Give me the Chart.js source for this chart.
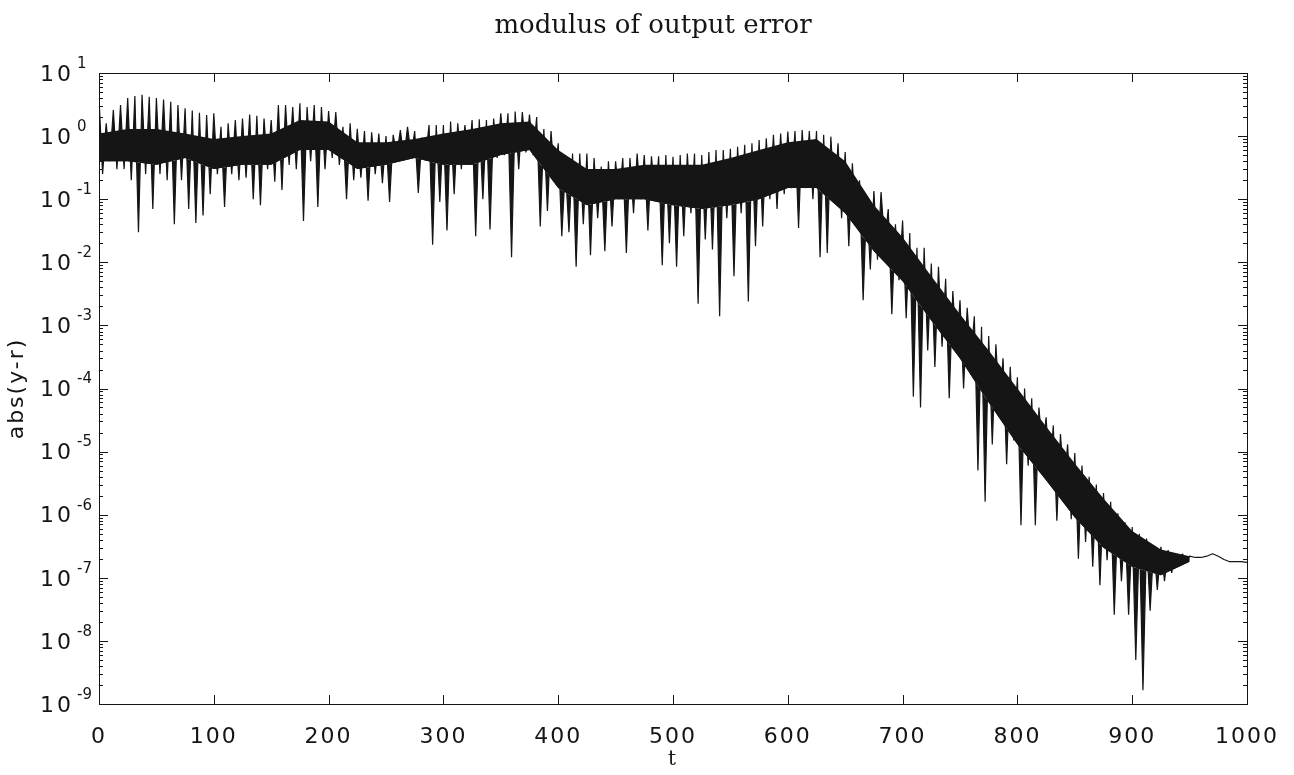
<!DOCTYPE html>
<html>
<head>
<meta charset="utf-8">
<title>modulus of output error</title>
<script src="https://cdn.jsdelivr.net/npm/chart.js@4.4.0/dist/chart.umd.min.js"></script>
<style>
  html, body { margin: 0; padding: 0; background: #fff; }
  #wrap { width: 1294px; height: 775px; }
</style>
</head>
<body>
<div id="wrap"><canvas id="errChart" width="1294" height="775"></canvas></div>
<script>
const chartTitle = 'modulus of output error';
const xTitle = 't';
const yTitle = 'abs(y-r)';

// axis ticks
const xTicks = [0, 100, 200, 300, 400, 500, 600, 700, 800, 900, 1000];
const xTickLabels = ['0', '100', '200', '300', '400', '500', '600', '700', '800', '900', '1000'];
const yTickExp = [1, 0, -1, -2, -3, -4, -5, -6, -7, -8, -9];

// oscillation: one crest and one trough per cycle, 8 cycles per row (50 units of t)
const cycle = 6.25;
const peaks = [
  4.0, 1.6, 2.6, 3.1, 4.0, 4.3, 4.5, 4.2,              // 0-50
  4.0, 3.8, 3.5, 3.1, 2.75, 2.55, 2.35, 2.15,          // 50-100
  2.3, 1.4, 1.6, 1.8, 1.9, 2.2, 2.1, 1.9,              // 100-150
  1.8, 3.1, 3.1, 2.9, 3.3, 2.9, 3.1, 2.9,              // 150-200
  2.5, 2.4, 1.4, 1.6, 1.3, 1.2, 1.15, 1.1,             // 200-250
  1.0, 1.05, 1.25, 1.4, 1.2, 0.95, 1.5, 1.5,           // 250-300
  1.5, 1.7, 1.6, 1.5, 1.8, 1.85, 1.8, 1.9,             // 300-350
  2.3, 2.3, 2.45, 2.4, 2.2, 2.0, 1.3, 1.2,             // 350-400
  0.77, 0.32, 0.53, 0.53, 0.53, 0.45, 0.33, 0.4,       // 400-450
  0.4, 0.45, 0.45, 0.53, 0.5, 0.48, 0.48, 0.5,         // 450-500
  0.47, 0.5, 0.53, 0.53, 0.5, 0.56, 0.6, 0.6,          // 500-550
  0.63, 0.68, 0.73, 0.77, 0.87, 0.92, 1.05, 1.1,       // 550-600
  1.18, 1.2, 1.25, 1.2, 1.2, 1.05, 0.98, 0.77,         // 600-650
  0.56, 0.37, 0.2, 0.1, 0.135, 0.13, 0.07, 0.04,       // 650-700
  0.046, 0.029, 0.017, 0.017, 0.0096, 0.0085, 0.0055, 0.0035, // 700-750
  2.5e-3, 1.9e-3, 1.4e-3, 9.5e-4, 6.8e-4, 5.0e-4, 3.0e-4, 2.2e-4, // 750-800
  1.5e-4, 1.0e-4, 7.0e-5, 5.0e-5, 3.5e-5, 2.6e-5, 1.9e-5, 1.3e-5, // 800-850
  9.5e-6, 6.0e-6, 4.0e-6, 3.0e-6, 2.2e-6, 1.6e-6, 1.05e-6, 7.6e-7, // 850-900
  6.4e-7, 5.0e-7, 4.2e-7, 3.3e-7, 3.1e-7, 2.75e-7, 2.4e-7, 2.4e-7  // 900-950
];
const troughs = [
  0.25, 0.4, 0.3, 0.3, 0.2, 0.03, 0.25, 0.07,
  0.25, 0.2, 0.04, 0.2, 0.07, 0.042, 0.055, 0.12,
  0.25, 0.075, 0.25, 0.2, 0.22, 0.1, 0.08, 0.3,
  0.19, 0.14, 0.35, 0.3, 0.045, 0.4, 0.075, 0.3,
  0.45, 0.35, 0.1, 0.2, 0.22, 0.095, 0.25, 0.18,
  0.09, 0.5, 0.45, 0.5, 0.125, 0.45, 0.019, 0.09,
  0.032, 0.12, 0.3, 0.35, 0.026, 0.1, 0.033, 0.45,
  0.5, 0.012, 0.3, 0.55, 0.5, 0.037, 0.065, 0.2,
  0.026, 0.03, 0.0085, 0.04, 0.013, 0.05, 0.015, 0.037,
  0.1, 0.014, 0.06, 0.1, 0.032, 0.1, 0.009, 0.02,
  0.0085, 0.026, 0.06, 0.0022, 0.023, 0.016, 0.0014, 0.05,
  0.006, 0.06, 0.0024, 0.018, 0.037, 0.1, 0.07, 0.12,
  0.15, 0.035, 0.15, 0.1, 0.012, 0.014, 0.09, 0.05,
  0.018, 0.04, 0.0025, 0.0077, 0.011, 0.02, 0.0015, 0.0052,
  1.3e-3, 7.4e-5, 5.0e-5, 4.0e-4, 2.2e-4, 4.6e-4, 7.0e-5, 3.7e-4,
  1.0e-4, 3.0e-4, 5.0e-6, 1.6e-6, 1.3e-5, 5.0e-5, 6.3e-6, 1.5e-5,
  6.8e-7, 6.0e-6, 6.8e-7, 1.0e-5, 4.0e-6, 8.0e-7, 3.0e-6, 8.5e-7,
  2.0e-7, 3.7e-7, 1.5e-7, 7.6e-8, 1.9e-7, 2.6e-8, 8.8e-8, 2.6e-8,
  5.0e-9, 1.65e-9, 3.0e-8, 6.4e-8, 8.8e-8, 1.2e-7, 1.5e-7, 1.8e-7
];

// settled tail after the oscillation dies out
const tailT = [950, 955, 960, 965, 970, 975, 980, 985, 990, 995, 1000];
const tailV = [2.2e-7, 2.1e-7, 2.1e-7, 2.2e-7, 2.4e-7, 2.2e-7, 1.95e-7, 1.8e-7, 1.8e-7, 1.8e-7, 1.75e-7];

// dense band of fast oscillation (upper and lower edge)
const bandT = [0, 25, 50, 75, 100, 125, 150, 175, 200, 225, 250, 275, 300, 325, 350, 375, 400, 425, 450, 475,
  500, 525, 550, 575, 600, 625, 650, 675, 700, 725, 750, 775, 800, 825, 850, 875, 900, 925, 950];
const bandHigh = [1.1, 1.3, 1.3, 1.1, 0.9, 1.0, 1.1, 1.8, 1.7, 0.8, 0.8, 0.9, 1.1, 1.3, 1.6, 1.7, 0.6, 0.3, 0.3, 0.35,
  0.35, 0.35, 0.45, 0.6, 0.8, 0.9, 0.4, 0.08, 0.025, 0.006, 1.5e-3, 4e-4, 1.0e-4, 2.5e-5, 6.5e-6, 1.8e-6, 5.5e-7, 2.8e-7, 2.2e-7];
const bandLow = [0.4, 0.4, 0.35, 0.45, 0.3, 0.35, 0.35, 0.6, 0.6, 0.3, 0.35, 0.45, 0.35, 0.35, 0.5, 0.6, 0.15, 0.08, 0.1, 0.1,
  0.08, 0.07, 0.08, 0.1, 0.15, 0.15, 0.06, 0.015, 0.005, 1.2e-3, 3e-4, 6e-5, 1.3e-5, 3.5e-6, 9e-7, 3e-7, 1.5e-7, 1.1e-7, 1.8e-7];

// build the point lists
const signal = [];
peaks.forEach((p, i) => {
  signal.push({ x: i * cycle, y: p });
  signal.push({ x: i * cycle + cycle / 2, y: troughs[i] });
});
tailT.forEach((t, i) => signal.push({ x: t, y: tailV[i] }));

const bandTop = bandT.map((t, i) => ({ x: t, y: bandHigh[i] }));
const bandBottom = bandT.map((t, i) => ({ x: t, y: bandLow[i] }));

const ink = '#151515';

// frame, inward ticks, decade labels and the title
const framePlugin = {
  id: 'frame',
  beforeDraw(chart) {
    chart.ctx.letterSpacing = '2px';
  },
  afterDraw(chart) {
    const ctx = chart.ctx;
    const area = chart.chartArea;
    const xs = chart.scales.x;
    const ys = chart.scales.y;
    ctx.save();
    ctx.strokeStyle = ink;
    ctx.lineWidth = 1;
    ctx.strokeRect(area.left + 0.5, area.top + 0.5, area.right - area.left, area.bottom - area.top);

    ctx.beginPath();
    xTicks.forEach(v => {
      const px = Math.round(xs.getPixelForValue(v)) + 0.5;
      ctx.moveTo(px, area.bottom);
      ctx.lineTo(px, area.bottom - 9);
      ctx.moveTo(px, area.top);
      ctx.lineTo(px, area.top + 9);
    });
    yTickExp.forEach((e, i) => {
      const dec = Math.pow(10, e);
      const py = Math.round(ys.getPixelForValue(dec)) + 0.5;
      ctx.moveTo(area.left, py);
      ctx.lineTo(area.left + 9, py);
      ctx.moveTo(area.right, py);
      ctx.lineTo(area.right - 9, py);
      if (i === 0) return;
      for (let m = 2; m <= 9; m++) {
        const my = Math.round(ys.getPixelForValue(m * dec)) + 0.5;
        ctx.moveTo(area.left, my);
        ctx.lineTo(area.left + 4, my);
        ctx.moveTo(area.right, my);
        ctx.lineTo(area.right - 4, my);
      }
    });
    ctx.stroke();

    ctx.fillStyle = ink;
    ctx.textBaseline = 'middle';
    yTickExp.forEach(e => {
      const py = ys.getPixelForValue(Math.pow(10, e));
      ctx.letterSpacing = '3px';
      ctx.font = '22px "DejaVu Sans"';
      ctx.textAlign = 'left';
      ctx.fillText('10', 40, py + 2);
      ctx.letterSpacing = '0px';
      ctx.font = '15px "DejaVu Sans"';
      ctx.fillText(e < 0 ? '-' + (-e) : String(e), 77, py - 9);
    });

    ctx.letterSpacing = '0px';
    ctx.font = '26px "DejaVu Serif"';
    ctx.textAlign = 'center';
    ctx.textBaseline = 'alphabetic';
    ctx.fillText(chartTitle, 653, 33);
    ctx.restore();
  }
};

const ctx = document.getElementById('errChart').getContext('2d');
const errChart = new Chart(ctx, {
  type: 'line',
  data: {
    datasets: [{
      label: 'band top',
      data: bandTop,
      borderWidth: 0,
      pointRadius: 0,
      fill: false
    }, {
      label: 'band bottom',
      data: bandBottom,
      borderWidth: 0,
      pointRadius: 0,
      backgroundColor: ink,
      fill: '-1'
    }, {
      // crests and dips are filled against the lower band edge
      label: yTitle,
      data: signal,
      borderColor: ink,
      borderWidth: 1.2,
      borderJoinStyle: 'bevel',
      pointRadius: 0,
      tension: 0,
      backgroundColor: ink,
      fill: 1
    }]
  },
  options: {
    responsive: false,
    devicePixelRatio: 1,
    animation: false,
    events: [],
    layout: { padding: { top: 73, right: 47, left: 0, bottom: 0 } },
    plugins: {
      legend: { display: false },
      title: { display: false },
      tooltip: { enabled: false }
    },
    scales: {
      x: {
        type: 'linear',
        min: 0,
        max: 1000,
        grid: { display: false },
        border: { display: false },
        afterBuildTicks: scale => { scale.ticks = xTicks.map(v => ({ value: v })); },
        afterFit: scale => { scale.height = 71; },
        ticks: {
          autoSkip: false,
          maxRotation: 0,
          padding: 12,
          color: ink,
          font: { family: 'DejaVu Sans', size: 22 },
          callback: (v, i) => xTickLabels[i]
        },
        title: {
          display: true,
          text: xTitle,
          color: ink,
          font: { family: 'DejaVu Serif', size: 20 },
          padding: { top: 0, bottom: 3 }
        }
      },
      y: {
        type: 'logarithmic',
        min: 1e-9,
        max: 10,
        grid: { display: false },
        border: { display: false },
        afterFit: scale => { scale.width = 99; },
        ticks: { display: false },
        title: {
          display: true,
          text: yTitle,
          color: ink,
          font: { family: 'DejaVu Sans', size: 22 },
          padding: { top: 4, bottom: 0 }
        }
      }
    }
  },
  plugins: [framePlugin]
});
</script>
</body>
</html>
